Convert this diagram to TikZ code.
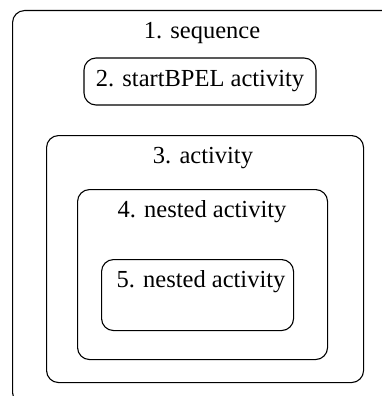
\documentclass[tikz,border=0pt]{standalone}
\usepackage{fontspec}
\setmainfont{Liberation Serif}
\usetikzlibrary{positioning}

\begin{document}
\begin{tikzpicture}[x=1pt,y=-1pt,line width=1.1pt]
\tikzset{box/.style={draw,rounded corners=12pt,inner sep=0pt,anchor=north west},
  lbl/.style={font=\fontsize{24.5}{28}\selectfont,inner sep=0pt,anchor=base}}
\useasboundingbox (0,0) rectangle (382,396);
\clip (0,0) rectangle (382,396);
% nested containers
\node[box,minimum width=420pt,minimum height=394pt] (seq) at (12,10) {};
\node[box,minimum width=317pt,minimum height=247pt] (act) at (46,135) {};
\node[box,minimum width=250pt,minimum height=170pt] (nestA) at (77,189) {};
\node[box,minimum width=192pt,minimum height=71pt] (nestB) at (101,259) {};
\node[box,anchor=center,minimum width=232pt,minimum height=47pt,font=\fontsize{24.5}{28}\selectfont] (start) at (200,81.5) {2. startBPEL activity};
% titles
\foreach \n/\x/\y/\t in {seqT/202/39/1. sequence, actT/203/163/3. activity, nestAT/202/217/4. nested activity, nestBT/201/287/5. nested activity}{\node[lbl] (\n) at (\x,\y) {\t};}
\end{tikzpicture}
\end{document}
